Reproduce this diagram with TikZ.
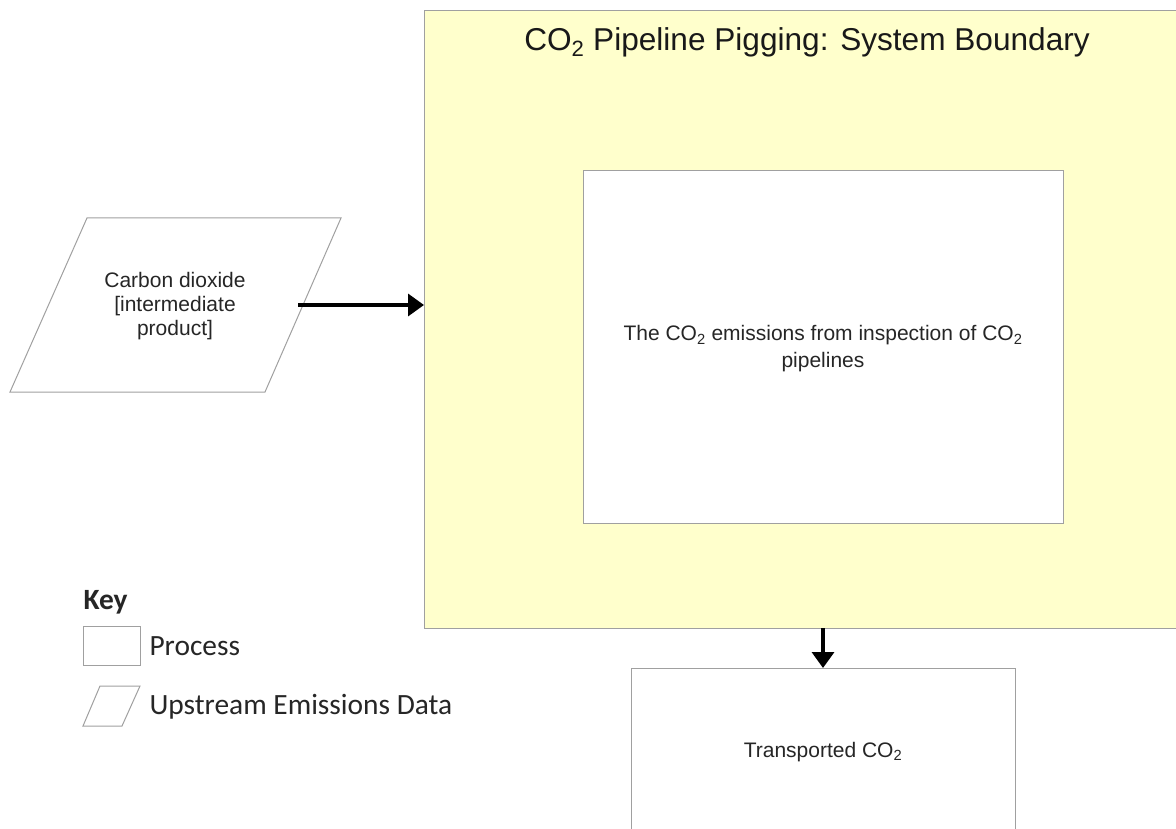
\documentclass[tikz,border=0pt]{standalone}
\usepackage{fontspec}
\setmainfont{Liberation Sans}
\newfontfamily\keyfont{Carlito}
\usetikzlibrary{arrows.meta}
\definecolor{boundfill}{HTML}{FFFFCC}
\definecolor{edgegray}{HTML}{A0A0A0}
\tikzset{
  boxline/.style={draw=edgegray, line width=1pt},
  flow/.style={line width=3.5pt, -{Triangle[length=16pt,width=22pt]}},
  bodytext/.style={font=\fontsize{21}{24}\selectfont, align=center, text=black!85},
  keytext/.style={font=\keyfont\fontsize{29.4}{34}\selectfont, anchor=west, text=black!85},
}
\newcommand{\cotwo}{CO\textsubscript{2}}
\begin{document}
\begin{tikzpicture}[x=1pt, y=-1pt]
\useasboundingbox (0,0) rectangle (1176,829);
\clip (0,0) rectangle (1176,829);
\fill[white] (0,0) rectangle (1176,829);

% system boundary
\node[boxline, fill=boundfill, anchor=north west, minimum width=770pt, minimum height=618pt, inner sep=0pt] (bound) at (424,10) {};
\node[font=\fontsize{31.6}{36}\selectfont, text=black!90] (title) at (807,42) {\cotwo{} Pipeline Pigging: System Boundary};

% process inside the boundary
\node[boxline, fill=white, anchor=north west, minimum width=480pt, minimum height=353pt, inner sep=0pt] (proc) at (583,170) {};
\node[bodytext, font=\fontsize{21}{27}\selectfont] (proctext) at (823,349) {The \cotwo{} emissions from inspection of \cotwo\\pipelines};

% upstream input
\draw[boxline, fill=white] (87,218) coordinate (pa) -- (341,218) -- (265,392) -- (10,392) -- cycle;
\node[bodytext] (input) at (175,306) {Carbon dioxide\\{}[intermediate\\product]};
\coordinate (inout) at (298,305);

% output process
\node[boxline, fill=white, anchor=north west, minimum width=384pt, minimum height=200pt, inner sep=0pt] (out) at (631,668) {};
\node[bodytext] (outtext) at (823,752) {Transported \cotwo};

% flows
\draw[flow] (inout) -- (inout -| bound.west);
\draw[flow] (823,628) coordinate (bstart) -- (bstart |- out.north);

% key
\node[keytext, font=\keyfont\bfseries\fontsize{29.4}{34}\selectfont] (keyhead) at (80,602) {Key};
\node[boxline, anchor=north west, minimum width=57pt, minimum height=39pt, inner sep=0pt] (keyproc) at (83,626) {};
\node[keytext] (keyproclabel) at (146,646) {Process};
\draw[boxline] (100,686) -- (140,686) -- (122,726) -- (83,726) -- cycle;
\node[keytext] (keyuplabel) at (146,707) {Upstream Emissions Data};
\end{tikzpicture}
\end{document}
